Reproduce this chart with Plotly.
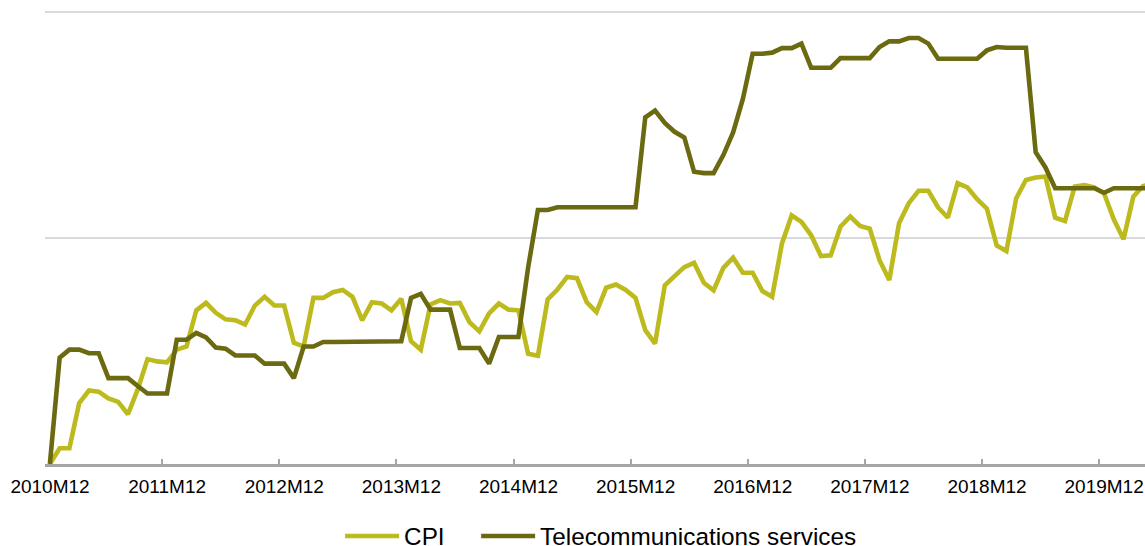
import plotly.graph_objects as go

# Monthly categories, 2010M12 onwards
start_year, start_month, n_months = 2010, 12, 114
months = []
y, m = start_year, start_month
for _ in range(n_months):
    months.append(f"{y}M{m:02d}")
    m += 1
    if m > 12:
        m = 1
        y += 1

tick_labels = ["2010M12", "2011M12", "2012M12", "2013M12", "2014M12",
               "2015M12", "2016M12", "2017M12", "2018M12", "2019M12"]

cpi = [100.0, 100.7, 100.7, 102.69, 103.25, 103.2, 102.9, 102.75, 102.2, 103.3,
       104.64, 104.54, 104.5, 105.06, 105.2, 106.8, 107.13, 106.69, 106.4, 106.36,
       106.17, 107.01, 107.4, 107.01, 107.01, 105.36, 105.2, 107.35, 107.35, 107.6,
       107.7, 107.4, 106.36, 107.16, 107.1, 106.8, 107.31, 105.43, 105.06, 107.06,
       107.25, 107.1, 107.13, 106.27, 105.87, 106.66, 107.1, 106.83, 106.8, 104.88,
       104.79, 107.28, 107.72, 108.28, 108.22, 107.16, 106.72, 107.8, 107.94, 107.7,
       107.35, 105.92, 105.33, 107.9, 108.31, 108.71, 108.9, 108.02, 107.68, 108.68,
       109.13, 108.46, 108.46, 107.65, 107.4, 109.75, 111.0, 110.71, 110.12, 109.2,
       109.23, 110.5, 110.95, 110.53, 110.41, 109.02, 108.14, 110.65, 111.54, 112.09,
       112.09, 111.35, 110.9, 112.43, 112.24, 111.72, 111.3, 109.67, 109.42, 111.75,
       112.57, 112.68, 112.72, 110.9, 110.75, 112.28, 112.34, 112.24, 111.98, 110.83,
       109.94, 111.83, 112.3, 112.4]

telecom = [100.0, 104.7, 105.06, 105.06, 104.9, 104.9, 103.8, 103.8, 103.8, 103.45,
           103.12, 103.12, 103.12, 105.5, 105.5, 105.8, 105.6, 105.15, 105.1, 104.8,
           104.8, 104.8, 104.44, 104.44, 104.44, 103.8, 105.2, 105.2, 105.4, 105.4,
           105.4, 105.4, 105.4, 105.4, 105.43, 105.43, 105.43, 107.35, 107.53, 106.83,
           106.83, 106.83, 105.13, 105.13, 105.13, 104.44, 105.62, 105.62, 105.62, 108.7,
           111.24, 111.24, 111.36, 111.36, 111.36, 111.36, 111.36, 111.36, 111.36, 111.36,
           111.36, 115.34, 115.64, 115.09, 114.7, 114.45, 112.93, 112.87, 112.87, 113.67,
           114.67, 116.15, 118.15, 118.15, 118.2, 118.4, 118.4, 118.6, 117.53, 117.53,
           117.53, 117.96, 117.96, 117.96, 117.96, 118.45, 118.7, 118.7, 118.85, 118.85,
           118.6, 117.93, 117.93, 117.93, 117.93, 117.93, 118.3, 118.45, 118.42, 118.42,
           118.42, 113.79, 113.12, 112.2, 112.2, 112.2, 112.2, 112.2, 112.0, 112.2,
           112.2, 112.2, 112.2, 112.2]

grid_levels = [100, 110, 120]

x_idx = list(range(len(months)))
tick_pos = [months.index(t) - 0.5 for t in tick_labels]

CPI_COLOR = "#BDBA1E"
TEL_COLOR = "#6C6A10"
FONT = "Liberation Sans, Arial, sans-serif"

fig = go.Figure()
fig.add_trace(go.Scatter(x=x_idx, y=cpi, mode="lines", name="CPI",
                         line=dict(color=CPI_COLOR, width=4.6), legendwidth=67,
                         customdata=months, hovertemplate="%{customdata}: %{y}<extra>CPI</extra>"))
fig.add_trace(go.Scatter(x=x_idx, y=telecom, mode="lines", name="Telecommunications services",
                         line=dict(color=TEL_COLOR, width=4.6),
                         customdata=months,
                         hovertemplate="%{customdata}: %{y}<extra>Telecommunications services</extra>"))

fig.update_layout(
    width=1145, height=546,
    margin=dict(l=45, r=0, t=7, b=82, autoexpand=False),
    paper_bgcolor="white", plot_bgcolor="white",
    font=dict(family=FONT, color="#000000"),
    showlegend=True,
    legend=dict(orientation="h", x=0.5051, xanchor="center", y=-0.158, yanchor="middle",
                font=dict(size=24.3, family=FONT, color="#000000"),
                itemwidth=54, bgcolor="rgba(0,0,0,0)"),
)
fig.update_xaxes(
    range=[-0.5, 112.2], tickmode="array", tickvals=tick_pos, ticktext=tick_labels,
    ticklabelshift=5, ticklabelstandoff=3, ticks="inside", ticklen=5, tickwidth=1.5,
    tickcolor="#a6a6a6", showline=True, linecolor="#a6a6a6", linewidth=2.5,
    showgrid=False, zeroline=False,
    tickfont=dict(size=19, family=FONT, color="#000000"),
)
fig.update_yaxes(
    range=[100, 120.22], tickmode="array", tickvals=grid_levels, showticklabels=False,
    showgrid=True, gridcolor="#d9d9d9", gridwidth=1.5, zeroline=False, showline=False,
)

fig.write_html("out.html", config={"displayModeBar": False},
               post_script="document.body.style.margin='0';document.body.style.overflow='hidden';")
